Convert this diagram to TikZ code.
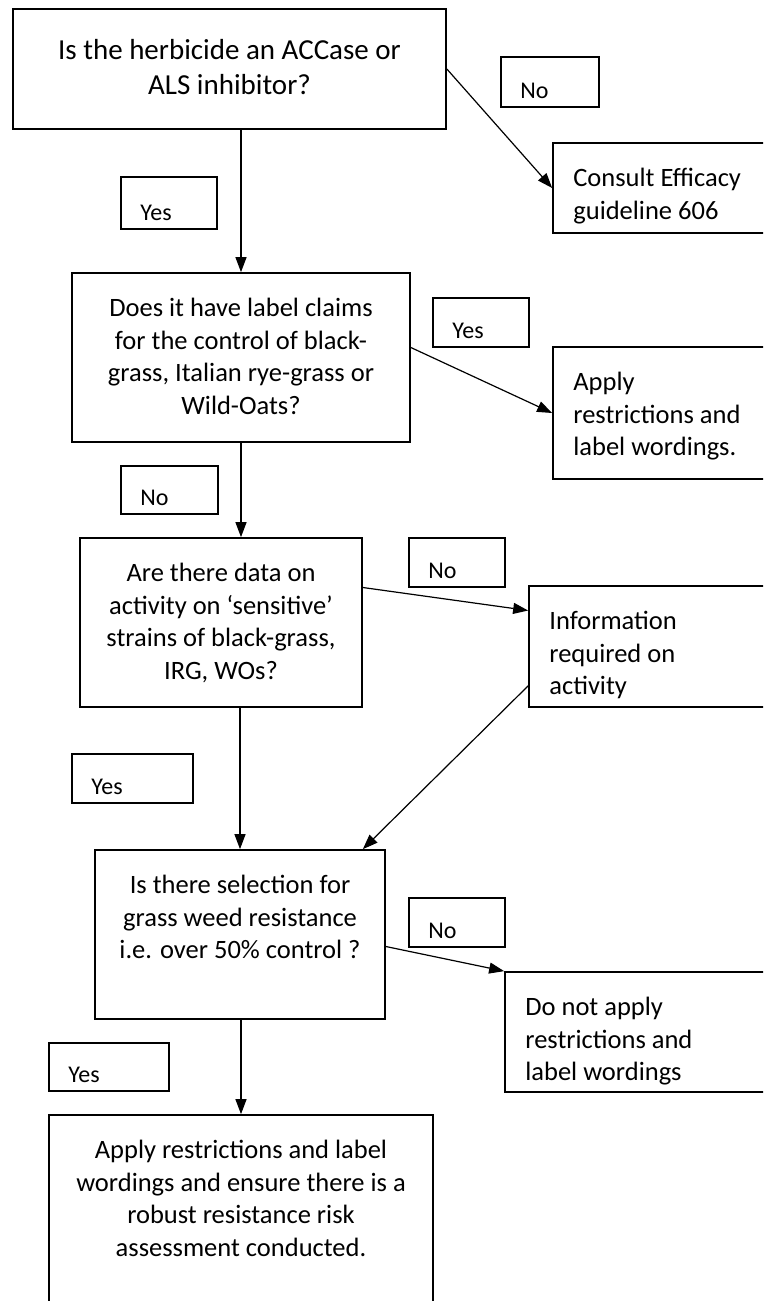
\documentclass[tikz,border=0pt]{standalone}
\usepackage{fontspec}
\setmainfont{Carlito}
\usepackage{tikz}
\usetikzlibrary{arrows.meta,positioning,calc}

\begin{document}
\begin{tikzpicture}
[x = 1pt, y = -1pt]
\tikzset{
	box/.style = {draw, line width = 1.7pt, inner sep = 0},
	ask text/.style = {inner sep = 0, align = center, font = \fontsize{26.5pt}{32.5pt}\selectfont, execute at begin node = \rule{0pt}{24pt}},
	out text/.style = {inner sep = 0, align = left, font = \fontsize{26.5pt}{32.5pt}\selectfont, execute at begin node = \rule{0pt}{24pt}},
	tag text/.style = {anchor = base west, inner sep = 0, font = \fontsize{24pt}{28pt}\selectfont},
	flow/.style = {line width = 1.2pt, -{Triangle[length = 15pt, width = 11pt]}},
}

\clip (0,0) rectangle (763,1301);

\node(q1)[box, minimum width = 433pt, minimum height = 120pt] at (229.5,69) {};
\node(q1t)[ask text, font = \fontsize{29pt}{35pt}\selectfont, below = 31pt of q1.north] {Is the herbicide an ACCase or\\ALS inhibitor?};
\node(consult)[box, minimum width = 247pt, minimum height = 90pt] at (676.5,188) {};
\node(consultt)[out text, below right = 26pt and 21pt of consult.north west] {Consult Efficacy\\guideline 606};
\node(no1)[box, minimum width = 98pt, minimum height = 50pt] at (550,82) {};
\node(no1t)[tag text] at ([xshift = 20pt, yshift = 9pt]no1.south west) {No};
\node(yes1)[box, minimum width = 96pt, minimum height = 52pt] at (169,203) {};
\node(yes1t)[tag text] at ([xshift = 20pt, yshift = 9pt]yes1.south west) {Yes};

\node(q2)[box, minimum width = 338pt, minimum height = 169pt] at (241,357.5) {};
\node(q2t)[ask text, below = 26pt of q2.north] {Does it have label claims\\for the control of black-\\grass, Italian rye-grass or\\Wild-Oats?};
\node(apply)[box, minimum width = 247pt, minimum height = 132pt] at (676.5,413) {};
\node(applyt)[out text, below right = 26pt and 21pt of apply.north west] {Apply\\restrictions and\\label wordings.};
\node(yes2)[box, minimum width = 96pt, minimum height = 49pt] at (481,322.5) {};
\node(yes2t)[tag text] at ([xshift = 20pt, yshift = 9pt]yes2.south west) {Yes};
\node(no2)[box, minimum width = 97pt, minimum height = 48pt] at (169.5,490) {};
\node(no2t)[tag text] at ([xshift = 20pt, yshift = 9pt]no2.south west) {No};

\node(q3)[box, minimum width = 282pt, minimum height = 169pt] at (221,622.5) {};
\node(q3t)[ask text, below = 26pt of q3.north] {Are there data on\\activity on ‘sensitive’\\strains of black-grass,\\IRG, WOs?};
\node(info)[box, minimum width = 271pt, minimum height = 121pt] at (664.5,646.5) {};
\node(infot)[out text, below right = 26pt and 21pt of info.north west] {Information\\required on\\activity};
\node(no3)[box, minimum width = 96pt, minimum height = 49pt] at (457,562.5) {};
\node(no3t)[tag text] at ([xshift = 20pt, yshift = 9pt]no3.south west) {No};
\node(yes3)[box, minimum width = 121pt, minimum height = 49pt] at (132.5,778.5) {};
\node(yes3t)[tag text] at ([xshift = 20pt, yshift = 9pt]yes3.south west) {Yes};

\node(q4)[box, minimum width = 290pt, minimum height = 169pt] at (240,934.5) {};
\node(q4t)[ask text, below = 26pt of q4.north] {Is there selection for\\grass weed resistance\\i.e. over 50\% control ?};
\node(donot)[box, minimum width = 295pt, minimum height = 120pt] at (652.5,1032) {};
\node(donott)[out text, below right = 26pt and 21pt of donot.north west] {Do not apply\\restrictions and\\label wordings};
\node(no4)[box, minimum width = 96pt, minimum height = 49pt] at (457,922.5) {};
\node(no4t)[tag text] at ([xshift = 20pt, yshift = 9pt]no4.south west) {No};
\node(yes4)[box, minimum width = 120pt, minimum height = 48pt] at (109,1067) {};
\node(yes4t)[tag text] at ([xshift = 20pt, yshift = 9pt]yes4.south west) {Yes};

\node(final)[box, minimum width = 384pt, minimum height = 220pt] at (241,1225) {};
\node(finalt)[ask text, below = 26pt of final.north] {Apply restrictions and label\\wordings and ensure there is a\\robust resistance risk\\assessment conducted.};

\draw[flow] (q1.east) -- (consult.west);
\draw[flow] (q1.south -| q2.north) -- (q2.north);
\draw[flow] ([yshift = 10pt]q2.east) -- (apply.west);
\draw[flow] (q2.south) -- (q2.south |- q3.north);
\draw[flow] ([yshift = 35pt]q3.east) -- ([yshift = 36pt]info.west);
\draw[flow] ([yshift = 22pt]info.south west) -- ([xshift = -23pt]q4.north east);
\draw[flow] (q3.south -| q4.north) -- (q4.north);
\draw[flow] ([yshift = -12pt]q4.east) -- (donot.north west);
\draw[flow] (q4.south -| final.north) -- (final.north);

\end{tikzpicture}
\end{document}
